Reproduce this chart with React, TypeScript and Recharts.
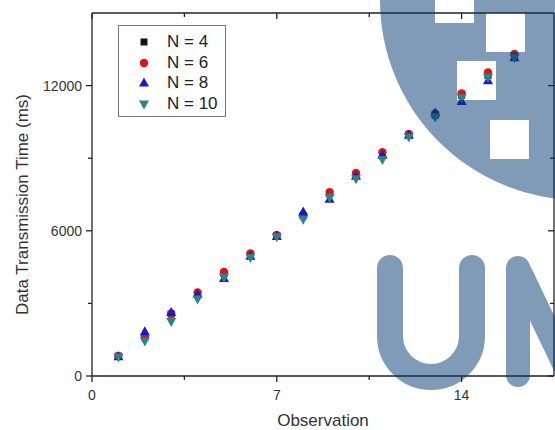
import { Scatter, ScatterChart, XAxis, YAxis } from "recharts";

const OBS = [1, 2, 3, 4, 5, 6, 7, 8, 9, 10, 11, 12, 13, 14, 15, 16];

const N4 = [820, 1600, 2560, 3400, 4230, 5020, 5800, 6620, 7520, 8300, 9170, 9960, 10780, 11600, 12420, 13230];
const N6 = [830, 1620, 2580, 3450, 4300, 5060, 5830, 6650, 7600, 8390, 9250, 10000, 10850, 11680, 12540, 13310];
const N8 = [800, 1830, 2620, 3380, 4030, 4950, 5760, 6780, 7300, 8250, 9120, 9950, 10870, 11340, 12200, 13150];
const N10 = [780, 1450, 2250, 3180, 4080, 4900, 5750, 6480, 7380, 8150, 8950, 9880, 10700, 11500, 12350, 13150];

const X_TICKS = [0, 3.5, 7, 10.5, 14];
const X_LABELS = [0, 7, 14];
const Y_TICKS = [0, 3000, 6000, 9000, 12000];
const Y_LABELS = [0, 6000, 12000];

const FONT = "'Liberation Sans', Arial, sans-serif";
const AXIS = "#222";

const series = [
  { name: "N = 4", values: N4, color: "#111111", kind: "square" },
  { name: "N = 6", values: N6, color: "#e01414", kind: "circle" },
  { name: "N = 8", values: N8, color: "#1818d0", kind: "up" },
  { name: "N = 10", values: N10, color: "#2b8585", kind: "down" },
];

function Marker({ cx, cy, kind, color }: any) {
  if (cx == null || cy == null) return null;
  if (kind === "square") return <rect x={cx - 3.5} y={cy - 3.5} width={7} height={7} fill={color} />;
  if (kind === "circle") return <circle cx={cx} cy={cy} r={4.2} fill={color} />;
  if (kind === "up")
    return <polygon points={`${cx},${cy - 5.5} ${cx - 5},${cy + 3.5} ${cx + 5},${cy + 3.5}`} fill={color} />;
  return <polygon points={`${cx},${cy + 5.5} ${cx - 5},${cy - 3.5} ${cx + 5},${cy - 3.5}`} fill={color} />;
}

function BottomTick({ x, y, payload }: any) {
  const major = X_LABELS.includes(payload.value);
  return (
    <g>
      <line x1={x} x2={x} y1={y} y2={y + (major ? 6 : 4)} stroke={AXIS} strokeWidth={1.3} />
      {major && (
        <text x={x} y={y + 19} textAnchor="middle" dominantBaseline="central" fontSize={14} fill="#333" fontFamily={FONT}>
          {payload.value}
        </text>
      )}
    </g>
  );
}

function TopTick({ x, y, payload }: any) {
  const major = X_LABELS.includes(payload.value);
  return <line x1={x} x2={x} y1={y} y2={y + (major ? 6 : 4)} stroke={AXIS} strokeWidth={1.3} />;
}

function LeftTick({ x, y, payload }: any) {
  const major = Y_LABELS.includes(payload.value);
  return (
    <g>
      <line x1={x} x2={x - (major ? 6 : 4)} y1={y} y2={y} stroke={AXIS} strokeWidth={1.3} />
      {major && (
        <text x={x - 10} y={y} textAnchor="end" dominantBaseline="central" fontSize={14} fill="#333" fontFamily={FONT}>
          {payload.value}
        </text>
      )}
    </g>
  );
}

function RightTick({ x, y, payload }: any) {
  const major = Y_LABELS.includes(payload.value);
  return <line x1={x} x2={x - (major ? 6 : 4)} y1={y} y2={y} stroke={AXIS} strokeWidth={1.3} />;
}

function LegendBox() {
  return (
    <div
      style={{
        position: "absolute",
        left: 118,
        top: 25,
        width: 108,
        height: 92,
        border: "1px solid #777",
        background: "#fff",
        fontFamily: FONT,
        fontSize: 17,
        color: "#222",
        paddingTop: 6,
        boxSizing: "border-box",
      }}
    >
      {series.map((s) => (
        <div key={s.name} style={{ display: "flex", alignItems: "center", height: 20.5 }}>
          <svg width={48} height={20} style={{ flex: "none" }}>
            <Marker cx={25} cy={10} kind={s.kind} color={s.color} />
          </svg>
          <span>{s.name}</span>
        </div>
      ))}
    </div>
  );
}

function Watermark() {
  const fill = "rgba(0, 55, 113, 0.5)";
  const holes = [
    [435, -16],
    [486, 13],
    [457, 61],
    [490, 120],
  ]
    .map(([x, y]) => `M${x},${y} h39 v39 h-39 Z`)
    .join(" ");
  return (
    <svg width={555} height={430} style={{ position: "absolute", left: 0, top: 0, pointerEvents: "none" }}>
      <path d={`M380,0 A200,200 0 1,0 780,0 A200,200 0 1,0 380,0 Z ${holes}`} fill={fill} fillRule="evenodd" />
      <path d="M390,268 V336 A41,41 0 0,0 472,336 V268" stroke={fill} strokeWidth={26} fill="none" strokeLinecap="round" />
      <path d="M518,375 V268 L568,372 L618,268 V375" stroke={fill} strokeWidth={24} fill="none" strokeLinecap="round" strokeLinejoin="round" />
    </svg>
  );
}

export default function App() {
  return (
    <div style={{ position: "absolute", left: 0, top: 0, width: 555, height: 430, background: "#fff", overflow: "hidden" }}>
      <ScatterChart width={555} height={430} margin={{ top: 12, right: 0, bottom: 0, left: 0 }}>
        <XAxis
          xAxisId="b"
          type="number"
          dataKey="x"
          domain={[0, 17.5]}
          ticks={X_TICKS}
          tickSize={0}
          tickMargin={0}
          tick={<BottomTick />}
          height={54}
          stroke={AXIS}
          strokeWidth={1.3}
          allowDataOverflow
          label={{ value: "Observation", position: "insideBottom", offset: 4, fontSize: 17, fill: "#333", fontFamily: FONT }}
        />
        <XAxis
          xAxisId="t"
          orientation="top"
          type="number"
          dataKey="x"
          domain={[0, 17.5]}
          ticks={X_TICKS}
          tickSize={0}
          tickMargin={0}
          tick={<TopTick />}
          height={1}
          stroke={AXIS}
          strokeWidth={1.3}
          allowDataOverflow
        />
        <YAxis
          yAxisId="l"
          type="number"
          dataKey="y"
          domain={[0, 15000]}
          ticks={Y_TICKS}
          tickSize={0}
          tickMargin={0}
          tick={<LeftTick />}
          width={92}
          stroke={AXIS}
          strokeWidth={1.3}
          allowDataOverflow
          label={({ viewBox }: any) => (
            <text
              x={22}
              y={viewBox.y + viewBox.height / 2 + 10}
              transform={`rotate(-90 22 ${viewBox.y + viewBox.height / 2 + 10})`}
              textAnchor="middle"
              dominantBaseline="central"
              fontSize={17}
              fill="#333"
              fontFamily={FONT}
            >
              Data Transmission Time (ms)
            </text>
          )}
        />
        <YAxis
          yAxisId="r"
          orientation="right"
          type="number"
          dataKey="y"
          domain={[0, 15000]}
          ticks={Y_TICKS}
          tickSize={0}
          tickMargin={0}
          tick={<RightTick />}
          width={1}
          stroke={AXIS}
          strokeWidth={1.3}
          allowDataOverflow
        />
        {series.map((s) => (
          <Scatter
            key={s.name}
            name={s.name}
            xAxisId="b"
            yAxisId="l"
            data={OBS.map((x, i) => ({ x, y: s.values[i] }))}
            fill={s.color}
            isAnimationActive={false}
            shape={(p: any) => <Marker cx={p.cx} cy={p.cy} kind={s.kind} color={s.color} />}
          />
        ))}
      </ScatterChart>
      <LegendBox />
      <Watermark />
    </div>
  );
}
